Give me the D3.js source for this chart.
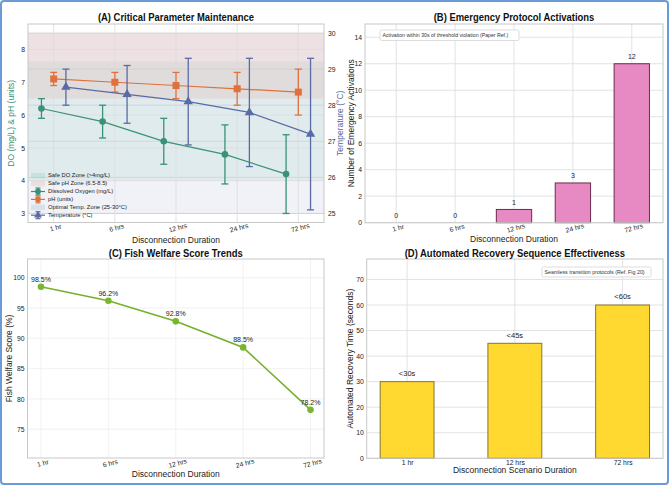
<!DOCTYPE html>
<html>
<head>
<meta charset="utf-8">
<script src="https://cdn.jsdelivr.net/npm/d3@7"></script>
<style>
  body { margin: 0; background: #fff; }
  svg { font-family: "Liberation Sans", Arial, sans-serif; }
  .tick line { display: none; }
  .domain { display: none; }
</style>
</head>
<body>
<div id="chart"></div>
<script>
/* DATA */
const durations = ["1 hr", "6 hrs", "12 hrs", "24 hrs", "72 hrs"];
const doMean = [6.2, 5.8, 5.2, 4.8, 4.2];
const doErr = [0.3, 0.5, 0.7, 0.9, 1.2];
const phMean = [7.1, 7.0, 6.9, 6.8, 6.7];
const phErr = [0.2, 0.3, 0.4, 0.5, 0.7];
const tempMean = [28.5, 28.3, 28.1, 27.8, 27.2];
const tempErr = [0.5, 0.8, 1.2, 1.5, 2.1];
const doZone = [4, 7.63];
const phZone = [6.5, 8.5];
const tempZone = [25, 30];
const leftTicks = [3, 4, 5, 6, 7, 8];
const rightTicks = [25, 26, 27, 28, 29, 30];

const activations = [0, 0, 1, 3, 12];
const activationTicks = [0, 2, 4, 6, 8, 10, 12, 14];

const welfare = [98.5, 96.2, 92.8, 88.5, 78.2];
const welfareTicks = [75, 80, 85, 90, 95, 100];

const recoveryScenarios = ["1 hr", "12 hrs", "72 hrs"];
const recoveryTimes = [30, 45, 60];
const recoveryLabels = ["<30s", "<45s", "<60s"];
const recoveryTicks = [0, 10, 20, 30, 40, 50, 60, 70];

/* SETUP */
const width = 669, height = 485;
const gridColor = "#dcdcdc", spineColor = "#c8c8c8", textColor = "#222";
const doColor = "#3a9275", phColor = "#e0703c", tempColor = "#5a6aa5";
const intFmt = d3.format("d");

const svg = d3.select("#chart").append("svg")
  .attr("width", width).attr("height", height);

svg.append("rect").attr("width", width).attr("height", height).attr("fill", "#fff");

// draws grid and axes for one panel and returns its scales
function panel(box, xDomain, yDomain, yTicks, xTicks, xLabels, rotate, gridOpacity) {
  const x = d3.scaleLinear().domain(xDomain).range([box.x0, box.x1]);
  const y = d3.scaleLinear().domain(yDomain).range([box.y1, box.y0]);
  const g = svg.append("g");
  const grid = g.append("g").attr("opacity", gridOpacity);
  grid.selectAll(".hg").data(yTicks).join("line")
    .attr("x1", box.x0).attr("x2", box.x1)
    .attr("y1", d => y(d)).attr("y2", d => y(d))
    .attr("stroke", gridColor).attr("stroke-width", 0.8);
  grid.selectAll(".vg").data(xTicks).join("line")
    .attr("y1", box.y0).attr("y2", box.y1)
    .attr("x1", d => x(d)).attr("x2", d => x(d))
    .attr("stroke", gridColor).attr("stroke-width", 0.8);

  g.append("g").attr("transform", `translate(${box.x0},0)`)
    .call(d3.axisLeft(y).tickValues(yTicks).tickSize(0).tickPadding(3).tickFormat(intFmt))
    .call(s => s.selectAll("text").attr("font-size", 6.8).attr("fill", textColor));

  const xa = g.append("g").attr("transform", `translate(0,${box.y1})`)
    .call(d3.axisBottom(x).tickValues(xTicks).tickSize(0).tickPadding(rotate ? 3 : 1.5).tickFormat((d, i) => xLabels[i]));
  xa.selectAll("text").attr("font-size", 6.8).attr("fill", textColor);
  if (rotate) {
    xa.selectAll("text")
      .attr("text-anchor", "middle")
      .attr("transform", "rotate(-15)");
  }
  return { x, y, g };
}

function frame(box) {
  svg.append("rect")
    .attr("x", box.x0).attr("y", box.y0)
    .attr("width", box.x1 - box.x0).attr("height", box.y1 - box.y0)
    .attr("fill", "none").attr("stroke", spineColor).attr("stroke-width", 1);
}

function title(txt, cx, cy) {
  svg.append("text").attr("transform", `translate(${cx},${cy}) scale(0.9,1)`)
    .attr("text-anchor", "middle").attr("dominant-baseline", "middle")
    .attr("font-size", 10.5).attr("font-weight", "bold").attr("fill", "#111").text(txt);
}

function label(txt, cx, cy, rot, color) {
  svg.append("text")
    .attr("transform", `translate(${cx},${cy}) rotate(${rot || 0})`)
    .attr("text-anchor", "middle").attr("dominant-baseline", "middle")
    .attr("font-size", 8.5).attr("fill", color || textColor).text(txt);
}

function errorbars(g, x, y, xs, mean, err, color) {
  const rows = mean.map((m, i) => ({ x: xs[i], lo: m - err[i], hi: m + err[i] }));
  g.selectAll(null).data(rows).join("line")
    .attr("x1", d => x(d.x)).attr("x2", d => x(d.x))
    .attr("y1", d => y(d.lo)).attr("y2", d => y(d.hi))
    .attr("stroke", color).attr("stroke-width", 1.3);
  ["lo", "hi"].forEach(k => {
    g.selectAll(null).data(rows).join("line")
      .attr("x1", d => x(d.x) - 3.5).attr("x2", d => x(d.x) + 3.5)
      .attr("y1", d => y(d[k])).attr("y2", d => y(d[k]))
      .attr("stroke", color).attr("stroke-width", 1.3);
  });
}

/* (A) CRITICAL PARAMETER MAINTENANCE */
const boxA = { x0: 28, x1: 324, y0: 24, y1: 222.5 };
const idx = d3.range(durations.length);
{
  const x = d3.scaleLinear().domain([-0.42, 4.42]).range([boxA.x0, boxA.x1]);
  const yL = d3.scaleLinear().domain([2.725, 8.775]).range([boxA.y1, boxA.y0]);
  const yR = d3.scaleLinear().domain([24.75, 30.25]).range([boxA.y1, boxA.y0]);
  const g = svg.append("g");

  // zones
  g.append("rect").attr("x", boxA.x0).attr("width", boxA.x1 - boxA.x0)
    .attr("y", yR(tempZone[1])).attr("height", yR(tempZone[0]) - yR(tempZone[1]))
    .attr("fill", "#a8b4d6").attr("opacity", 0.17);
  g.append("rect").attr("x", boxA.x0).attr("width", boxA.x1 - boxA.x0)
    .attr("y", yL(doZone[1])).attr("height", yL(doZone[0]) - yL(doZone[1]))
    .attr("fill", "#7cc6b0").attr("opacity", 0.14);
  g.append("rect").attr("x", boxA.x0).attr("width", boxA.x1 - boxA.x0)
    .attr("y", yL(phZone[1])).attr("height", yL(phZone[0]) - yL(phZone[1]))
    .attr("fill", "#e0a090").attr("opacity", 0.2);

  // grid
  g.selectAll(null).data(leftTicks).join("line")
    .attr("x1", boxA.x0).attr("x2", boxA.x1).attr("y1", d => yL(d)).attr("y2", d => yL(d))
    .attr("stroke", gridColor).attr("stroke-width", 0.8);
  g.selectAll(null).data(rightTicks).join("line")
    .attr("x1", boxA.x0).attr("x2", boxA.x1).attr("y1", d => yR(d)).attr("y2", d => yR(d))
    .attr("stroke", "#cfcfcf").attr("stroke-width", 0.8);
  g.selectAll(null).data(idx).join("line")
    .attr("y1", boxA.y0).attr("y2", boxA.y1).attr("x1", d => x(d)).attr("x2", d => x(d))
    .attr("stroke", gridColor).attr("stroke-width", 0.8);

  g.append("g").attr("transform", `translate(${boxA.x0},0)`)
    .call(d3.axisLeft(yL).tickValues(leftTicks).tickSize(0).tickPadding(3).tickFormat(intFmt))
    .call(s => s.selectAll("text").attr("font-size", 6.8).attr("fill", textColor));
  g.append("g").attr("transform", `translate(${boxA.x1},0)`)
    .call(d3.axisRight(yR).tickValues(rightTicks).tickSize(0).tickPadding(4).tickFormat(intFmt))
    .call(s => s.selectAll("text").attr("font-size", 6.8).attr("fill", textColor));
  g.append("g").attr("transform", `translate(0,${boxA.y1})`)
    .call(d3.axisBottom(x).tickValues(idx).tickSize(0).tickPadding(3).tickFormat(i => durations[i]))
    .call(s => s.selectAll("text").attr("font-size", 6.8).attr("fill", textColor)
      .attr("transform", "rotate(-15)"));

  const xsDO = idx.map(i => i - 0.2), xsPH = idx, xsT = idx.map(i => i + 0.2);
  // DO
  errorbars(g, x, yL, xsDO, doMean, doErr, doColor);
  g.append("path").datum(doMean)
    .attr("d", d3.line().x((d, i) => x(xsDO[i])).y(d => yL(d)))
    .attr("fill", "none").attr("stroke", doColor).attr("stroke-width", 1.2);
  g.selectAll(null).data(doMean).join("circle")
    .attr("cx", (d, i) => x(xsDO[i])).attr("cy", d => yL(d)).attr("r", 3.3).attr("fill", doColor);
  // pH
  errorbars(g, x, yL, xsPH, phMean, phErr, phColor);
  g.append("path").datum(phMean)
    .attr("d", d3.line().x((d, i) => x(xsPH[i])).y(d => yL(d)))
    .attr("fill", "none").attr("stroke", phColor).attr("stroke-width", 1.2);
  g.selectAll(null).data(phMean).join("rect")
    .attr("x", (d, i) => x(xsPH[i]) - 3.5).attr("y", d => yL(d) - 3.5)
    .attr("width", 7).attr("height", 7).attr("fill", phColor);
  // Temperature
  errorbars(g, x, yR, xsT, tempMean, tempErr, tempColor);
  g.append("path").datum(tempMean)
    .attr("d", d3.line().x((d, i) => x(xsT[i])).y(d => yR(d)))
    .attr("fill", "none").attr("stroke", tempColor).attr("stroke-width", 1.2);
  g.selectAll(null).data(tempMean).join("path")
    .attr("transform", (d, i) => `translate(${x(xsT[i])},${yR(d)})`)
    .attr("d", d3.symbol(d3.symbolTriangle, 38)).attr("fill", tempColor);

  frame(boxA);

  // legend
  const leg = [
    { t: "Safe DO Zone (>4mg/L)", kind: "patch", c: "#7cc6b0", o: 0.25 },
    { t: "Safe pH Zone (6.5-8.5)", kind: "patch", c: "#e0a090", o: 0.25 },
    { t: "Dissolved Oxygen (mg/L)", kind: "circle", c: doColor },
    { t: "pH (units)", kind: "square", c: phColor },
    { t: "Optimal Temp. Zone (25-30\u00b0C)", kind: "patch", c: "#a8b4d6", o: 0.3 },
    { t: "Temperature (\u00b0C)", kind: "tri", c: tempColor }
  ];
  const lg = g.append("g");
  leg.forEach((e, i) => {
    const cy = 175.7 + i * 7.9, lx = 31, lw = 14;
    if (e.kind === "patch") {
      lg.append("rect").attr("x", lx).attr("y", cy - 2.8).attr("width", lw).attr("height", 5.6)
        .attr("fill", e.c).attr("opacity", e.o);
    } else {
      lg.append("line").attr("x1", lx).attr("x2", lx + lw).attr("y1", cy).attr("y2", cy)
        .attr("stroke", e.c).attr("stroke-width", 1.2);
      lg.append("line").attr("x1", lx + lw / 2).attr("x2", lx + lw / 2).attr("y1", cy - 3.5).attr("y2", cy + 3.5)
        .attr("stroke", e.c).attr("stroke-width", 1.2);
      [-3.5, 3.5].forEach(dy => lg.append("line").attr("x1", lx + lw / 2 - 2.5).attr("x2", lx + lw / 2 + 2.5)
        .attr("y1", cy + dy).attr("y2", cy + dy).attr("stroke", e.c).attr("stroke-width", 1.2));
      const sym = e.kind === "circle" ? d3.symbolCircle : e.kind === "square" ? d3.symbolSquare : d3.symbolTriangle;
      lg.append("path").attr("transform", `translate(${lx + lw / 2},${cy})`)
        .attr("d", d3.symbol(sym, 26)).attr("fill", e.c);
    }
    lg.append("text").attr("x", 48).attr("y", cy).attr("dominant-baseline", "middle")
      .attr("font-size", 5.8).attr("fill", textColor).text(e.t);
  });

  title("(A) Critical Parameter Maintenance", (boxA.x0 + boxA.x1) / 2, 18);
  label("Disconnection Duration", (boxA.x0 + boxA.x1) / 2, 241);
  label("DO (mg/L) & pH (units)", 12, (boxA.y0 + boxA.y1) / 2, -90, doColor);
  label("Temperature (\u00b0C)", 341, (boxA.y0 + boxA.y1) / 2, -90, tempColor);
}

/* (B) EMERGENCY PROTOCOL ACTIVATIONS */
{
  const box = { x0: 365, x1: 663, y0: 24, y1: 222.7 };
  const { x, y, g } = panel(box, [-0.53, 4.53], [0, 15], activationTicks, idx, durations, true, 1);
  const bw = x(0.6) - x(0);
  g.selectAll(null).data(activations).join("rect")
    .attr("x", (d, i) => x(i) - bw / 2).attr("width", bw)
    .attr("y", d => y(d)).attr("height", d => y(0) - y(d))
    .attr("fill", "#e78ac3").attr("stroke", "#6b2b4c").attr("stroke-width", d => d > 0 ? 1 : 0);
  g.selectAll(null).data(activations).join("text")
    .attr("x", (d, i) => x(i)).attr("y", d => y(d) - 4.5)
    .attr("text-anchor", "middle").attr("font-size", 7).attr("fill", textColor).text(d => d);
  frame(box);
  const note = g.append("g");
  note.append("rect").attr("x", 380).attr("y", 30).attr("width", 139).attr("height", 10.5).attr("rx", 1.5)
    .attr("fill", "#fff").attr("stroke", "#cfcfcf").attr("stroke-width", 0.7);
  note.append("text").attr("x", 382.5).attr("y", 35.4).attr("dominant-baseline", "middle")
    .attr("font-size", 5.2).attr("fill", "#333").text("Activation within 30s of threshold violation (Paper Ref.)");
  title("(B) Emergency Protocol Activations", (box.x0 + box.x1) / 2, 18);
  label("Disconnection Duration", (box.x0 + box.x1) / 2, 240);
  label("Number of Emergency Activations", 352, (box.y0 + box.y1) / 2, -90);
}

/* (C) FISH WELFARE SCORE TRENDS */
{
  const box = { x0: 27.5, x1: 324, y0: 259, y1: 458 };
  const { x, y, g } = panel(box, [-0.2, 4.2], [70.26, 103.08], welfareTicks, idx, durations, true, 0.45);
  g.append("path").datum(welfare)
    .attr("d", d3.line().x((d, i) => x(i)).y(d => y(d)))
    .attr("fill", "none").attr("stroke", "#76b02c").attr("stroke-width", 1.6);
  g.selectAll(null).data(welfare).join("circle")
    .attr("cx", (d, i) => x(i)).attr("cy", d => y(d)).attr("r", 3.3).attr("fill", "#7ab52f");
  g.selectAll(null).data(welfare).join("text")
    .attr("x", (d, i) => x(i)).attr("y", d => y(d) - 5)
    .attr("text-anchor", "middle").attr("font-size", 7).attr("fill", textColor).text(d => d.toFixed(1) + "%");
  frame(box);
  title("(C) Fish Welfare Score Trends", (box.x0 + box.x1) / 2, 254);
  label("Disconnection Duration", (box.x0 + box.x1) / 2, 475);
  label("Fish Welfare Score (%)", 10, (box.y0 + box.y1) / 2, -90);
}

/* (D) AUTOMATED RECOVERY SEQUENCE EFFECTIVENESS */
{
  const box = { x0: 366.7, x1: 663, y0: 259, y1: 458.3 };
  const ridx = d3.range(recoveryScenarios.length);
  const { x, y, g } = panel(box, [-0.375, 2.375], [0, 78], recoveryTicks, ridx, recoveryScenarios, false, 1);
  const bw = x(0.5) - x(0);
  g.selectAll(null).data(recoveryTimes).join("rect")
    .attr("x", (d, i) => x(i) - bw / 2).attr("width", bw)
    .attr("y", d => y(d)).attr("height", d => y(0) - y(d))
    .attr("fill", "#ffd92f").attr("stroke", "#857632").attr("stroke-width", 1);
  g.selectAll(null).data(recoveryTimes).join("text")
    .attr("x", (d, i) => x(i)).attr("y", d => y(d) - 5.5)
    .attr("text-anchor", "middle").attr("font-size", 7.5).attr("fill", textColor).text((d, i) => recoveryLabels[i]);
  frame(box);
  const note = g.append("g");
  note.append("rect").attr("x", 542).attr("y", 267).attr("width", 109).attr("height", 10).attr("rx", 1.5)
    .attr("fill", "#fff").attr("stroke", "#cfcfcf").attr("stroke-width", 0.7);
  note.append("text").attr("x", 544.5).attr("y", 272.2).attr("dominant-baseline", "middle")
    .attr("font-size", 5.3).attr("fill", "#333").text("Seamless transition protocols (Ref. Fig 20)");
  title("(D) Automated Recovery Sequence Effectiveness", (box.x0 + box.x1) / 2, 254);
  label("Disconnection Scenario Duration", (box.x0 + box.x1) / 2, 470.5);
  label("Automated Recovery Time (seconds)", 351, (box.y0 + box.y1) / 2, -90);
}

// outer frame
svg.append("rect").attr("x", 1).attr("y", 1).attr("width", width - 2).attr("height", height - 2)
  .attr("rx", 3).attr("fill", "none").attr("stroke", "#6a9bd6").attr("stroke-width", 2);
</script>
</body>
</html>
